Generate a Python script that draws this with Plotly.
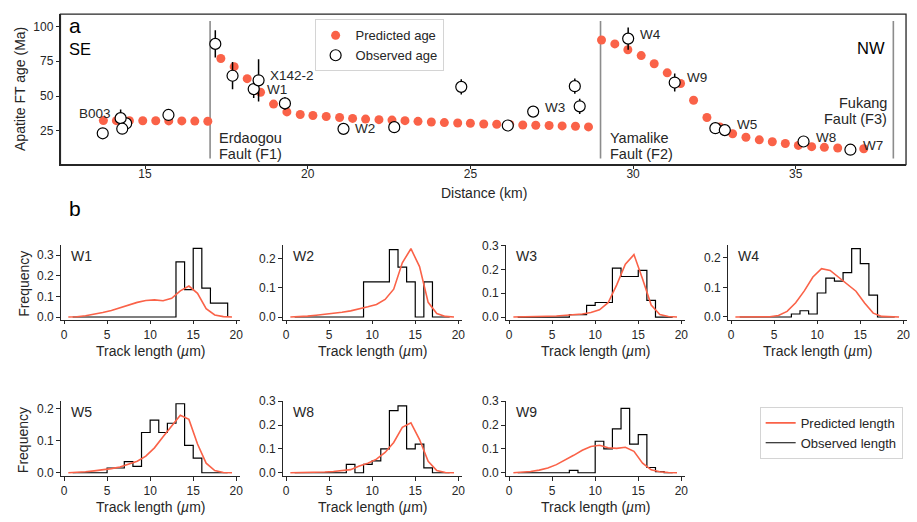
import plotly.graph_objects as go

# ---------------- data: apatite fission-track ages along the profile ----------------
PRED_DIST_KM = [
    13.72, 14.12, 14.52, 14.93, 15.33, 15.73, 16.13, 16.53, 16.93,
    17.33, 17.74, 18.14, 18.55, 18.95, 19.36, 19.77, 20.16, 20.57, 20.98,
    21.38, 21.78, 22.19, 22.59, 22.99, 23.39, 23.80, 24.20, 24.61, 25.00,
    25.41, 25.81, 26.21, 26.61, 27.01, 27.42, 27.82, 28.23, 28.63,
    29.03, 29.44, 29.84, 30.25, 30.65, 31.05, 31.46, 31.86, 32.27, 32.67,
    33.06, 33.47, 33.88, 34.28, 34.68, 35.08, 35.49, 35.88, 36.29, 36.69, 37.09,
]
PRED_AGE_MA = [
    32.4, 32.3, 32.3, 32.2, 32.2, 32.1, 32.1, 32.0, 31.9,
    77.0, 71.1, 62.5, 52.7, 44.2, 38.6, 36.7, 36.0, 35.3, 34.6,
    33.9, 33.4, 33.0, 32.7, 32.3, 31.8, 31.3, 30.9, 30.6, 30.4,
    29.9, 29.7, 29.5, 29.2, 29.0, 28.8, 28.5, 28.3, 27.8,
    90.3, 87.5, 83.3, 79.1, 73.2, 66.7, 59.0, 47.0, 34.6, 27.8,
    22.9, 20.4, 18.5, 17.1, 15.9, 14.5, 13.6, 13.1, 12.6, 12.3, 12.1,
]

OBS_DIST_KM = [14.42, 13.70, 14.25, 14.30, 15.72, 17.16, 17.69, 18.34, 18.49, 19.30,
               21.10, 22.66, 24.72, 26.15, 26.93, 28.21, 28.36, 29.85, 31.28,
               32.53, 32.82, 35.24, 36.68]
OBS_AGE_MA = [30.3, 23.2, 34.1, 26.5, 36.4, 87.5, 64.6, 55.0, 61.3, 44.7,
              26.4, 27.6, 56.6, 28.8, 38.8, 57.1, 42.6, 91.3, 59.7,
              26.9, 25.5, 17.3, 11.4]
OBS_ERR_MA = [3.0, 3.0, 6.3, 3.0, 3.0, 9.8, 9.8, 6.5, 15.2, 4.5,
              2.5, 2.5, 5.5, 2.5, 3.0, 5.5, 5.5, 8.0, 6.5,
              2.5, 2.5, 2.5, 2.5]

# sample labels: (name, index into the observed arrays)
SAMPLE_LABELS = [("B003", 2), ("X142-2", 8), ("W1", 7), ("W2", 10), ("W3", 14),
                 ("W4", 17), ("W9", 18), ("W5", 20), ("W8", 21), ("W7", 22)]

FAULT_KM = [17.0, 29.0, 38.0]
FAULT_NAMES = [("Erdaogou", "Fault (F1)"), ("Yamalike", "Fault (F2)"), ("Fukang", "Fault (F3)")]

# ---------------- data: track-length distributions ----------------
LENGTH_MID_UM = [0.5, 1.5, 2.5, 3.5, 4.5, 5.5, 6.5, 7.5, 8.5, 9.5,
                 10.5, 11.5, 12.5, 13.5, 14.5, 15.5, 16.5, 17.5, 18.5, 19.5]
LENGTH_BIN_EDGES_UM = [1, 2, 3, 4, 5, 6, 7, 8, 9, 10, 11, 12, 13, 14, 15, 16, 17, 18, 19]

LENGTH_SAMPLES = ["W1", "W2", "W3", "W4", "W5", "W8", "W9"]

PRED_LENGTH = {
    "W1": [0.000, 0.001, 0.006, 0.013, 0.022, 0.032, 0.045, 0.058, 0.071, 0.080,
           0.083, 0.079, 0.091, 0.127, 0.150, 0.115, 0.040, 0.010, 0.002, 0.000],
    "W2": [0.000, 0.001, 0.003, 0.006, 0.009, 0.012, 0.016, 0.021, 0.027, 0.035,
           0.043, 0.060, 0.095, 0.185, 0.233, 0.172, 0.050, 0.012, 0.002, 0.000],
    "W3": [0.000, 0.000, 0.001, 0.002, 0.003, 0.004, 0.006, 0.009, 0.013, 0.019,
           0.030, 0.060, 0.135, 0.222, 0.262, 0.160, 0.050, 0.010, 0.002, 0.000],
    "W4": [0.000, 0.000, 0.000, 0.000, 0.001, 0.005, 0.019, 0.048, 0.088, 0.135,
           0.163, 0.157, 0.133, 0.110, 0.087, 0.047, 0.013, 0.002, 0.000, 0.000],
    "W5": [0.000, 0.001, 0.003, 0.006, 0.009, 0.013, 0.018, 0.026, 0.036, 0.052,
           0.078, 0.113, 0.148, 0.180, 0.167, 0.090, 0.030, 0.007, 0.001, 0.000],
    "W8": [0.000, 0.000, 0.001, 0.002, 0.003, 0.005, 0.008, 0.013, 0.028, 0.040,
           0.057, 0.085, 0.127, 0.190, 0.209, 0.139, 0.048, 0.009, 0.001, 0.000],
    "W9": [0.000, 0.001, 0.005, 0.011, 0.020, 0.034, 0.052, 0.073, 0.094, 0.110,
           0.115, 0.105, 0.102, 0.107, 0.090, 0.040, 0.012, 0.004, 0.001, 0.000],
}

OBS_LENGTH = {
    "W1": [0, 0, 0, 0, 0, 0, 0, 0, 0, 0, 0, 0, 0.267, 0.133, 0.333, 0.140, 0.067, 0.067],
    "W2": [0, 0, 0, 0, 0, 0, 0, 0, 0.12, 0.12, 0.12, 0.23, 0.17, 0.12, 0, 0.12, 0, 0],
    "W3": [0, 0, 0, 0, 0, 0, 0.01, 0.01, 0.049, 0.061, 0.061, 0.205, 0.17, 0.17, 0.196, 0.07, 0, 0],
    "W4": [0, 0, 0, 0, 0, 0, 0.01, 0.021, 0.01, 0.081, 0.131, 0.121, 0.15, 0.231, 0.18, 0.074, 0, 0],
    "W5": [0, 0, 0, 0, 0.015, 0.015, 0.035, 0.02, 0.126, 0.165, 0.126, 0.155, 0.216, 0.086, 0.046, 0, 0, 0],
    "W8": [0, 0, 0, 0, 0, 0, 0.035, 0, 0.035, 0.05, 0.10, 0.26, 0.28, 0.10, 0.12, 0.02, 0, 0],
    "W9": [0, 0, 0, 0, 0, 0, 0.01, 0, 0, 0.132, 0.10, 0.184, 0.27, 0.12, 0.16, 0.022, 0.005, 0],
}

# ---------------- styling / layout helpers ----------------
W, H = 917, 522
FONT = "Liberation Sans, Arial, sans-serif"
INK = "#262626"
RED = "#fa6248"
GREY = "#8c8c8c"


def px(x):
    return x / W


def py(y):
    return 1 - y / H


fig = go.Figure()

# ---------------- panel a ----------------
fx, fy = [], []
for f in FAULT_KM:
    fx += [f, f, None]
    fy += [5, 104, None]
fig.add_trace(go.Scatter(x=fx, y=fy, mode="lines", line=dict(color=GREY, width=1.6),
                         showlegend=False, hoverinfo="skip", xaxis="x", yaxis="y"))

fig.add_trace(go.Scatter(x=PRED_DIST_KM, y=PRED_AGE_MA, mode="markers", name="Predicted age",
                         marker=dict(color=RED, size=9, line=dict(width=0)),
                         legend="legend", xaxis="x", yaxis="y"))

fig.add_trace(go.Scatter(x=OBS_DIST_KM, y=OBS_AGE_MA, mode="markers", name="Observed age",
                         marker=dict(color="white", size=11, line=dict(color="black", width=1.2)),
                         error_y=dict(type="data", array=OBS_ERR_MA, visible=True,
                                      thickness=1.5, width=0, color="black"),
                         legend="legend", xaxis="x", yaxis="y"))

# ---------------- panel b: track-length distributions ----------------
COL_X0 = [61.0, 284.0, 508.0, 731.0]
COL_W = 179.6
ROW_TOP = [243.3, 403.3]
ROW_BOT = [320.0, 480.0]
Y_RANGES = {
    "W1": [-0.0128, 0.3507], "W2": [-0.009, 0.2467], "W3": [-0.011, 0.3035],
    "W4": [-0.009, 0.244], "W5": [-0.010, 0.2245], "W8": [-0.0135, 0.3005],
    "W9": [-0.0135, 0.3005],
}
POSITIONS = [(0, 0), (0, 1), (0, 2), (0, 3), (1, 0), (1, 1), (1, 2)]

axis_common = dict(showgrid=False, zeroline=False, showline=True, linecolor=INK,
                   linewidth=1.2, ticks="outside", ticklen=3.5, tickwidth=1.1,
                   tickcolor=INK, tickfont=dict(family=FONT, size=12, color=INK))

layout_axes = {}
annotations = []

for i, name in enumerate(LENGTH_SAMPLES):
    n = i + 2
    xa, ya = f"x{n}", f"y{n}"
    row, col = POSITIONS[i]
    edges = LENGTH_BIN_EDGES_UM
    freq = OBS_LENGTH[name]
    step_x = [edges[0]] + edges[:-1] + [edges[-1]]
    step_y = [0] + freq + [0]
    first = i == 0
    fig.add_trace(go.Scatter(x=step_x, y=step_y, mode="lines", line_shape="hv",
                             line=dict(color="black", width=1.2), name="Observed length",
                             legend="legend2", legendrank=2, showlegend=first,
                             xaxis=xa, yaxis=ya))
    fig.add_trace(go.Scatter(x=LENGTH_MID_UM, y=PRED_LENGTH[name], mode="lines",
                             line=dict(color=RED, width=1.6), name="Predicted length",
                             legend="legend2", legendrank=1, showlegend=first,
                             xaxis=xa, yaxis=ya))

    x0 = COL_X0[col]
    layout_axes[f"xaxis{n}"] = dict(axis_common, domain=[px(x0), px(x0 + COL_W)], anchor=ya,
                                    range=[-0.38, 20.38], tickvals=[0, 5, 10, 15, 20])
    layout_axes[f"yaxis{n}"] = dict(axis_common, domain=[py(ROW_BOT[row]), py(ROW_TOP[row])],
                                    anchor=xa, range=Y_RANGES[name], tick0=0, dtick=0.1,
                                    tickformat=".1f")
    annotations.append(dict(text=name, xref="paper", yref="paper", x=px(x0 + 8),
                            y=py(ROW_TOP[row] + 11.7), xanchor="left", yanchor="middle",
                            showarrow=False, font=dict(family=FONT, size=14, color=INK)))
    annotations.append(dict(text="Track length (<i>µ</i>m)", xref="paper", yref="paper",
                            x=px(x0 + COL_W / 2), y=py(ROW_BOT[row] + 31.7),
                            xanchor="center", yanchor="middle", showarrow=False,
                            font=dict(family=FONT, size=14, color=INK)))

for row in range(2):
    annotations.append(dict(text="Frequency", xref="paper", yref="paper", x=px(23.3),
                            y=py((ROW_TOP[row] + ROW_BOT[row]) / 2 + 1.5), textangle=-90,
                            xanchor="center", yanchor="middle", showarrow=False,
                            font=dict(family=FONT, size=14, color=INK)))

# ---------------- panel a annotations ----------------
label_shift = {"B003": (-8, 4.4, "right"), "X142-2": (9.6, 5, "left"), "W1": (11.7, 0, "left"),
               "W2": (10, 0, "left"), "W3": (10.3, 3.7, "left"), "W4": (10, 4.3, "left"),
               "W9": (10, 4.6, "left"), "W5": (10.3, 5.3, "left"), "W8": (10.7, 4.4, "left"),
               "W7": (10.3, 4, "left")}
for name, idx in SAMPLE_LABELS:
    dx, dy, anchor = label_shift[name]
    annotations.append(dict(text=name, xref="x", yref="y", x=OBS_DIST_KM[idx], y=OBS_AGE_MA[idx],
                            xshift=dx, yshift=dy, xanchor=anchor, yanchor="middle",
                            showarrow=False, font=dict(family=FONT, size=13.5, color=INK)))

fault_text = [(FAULT_KM[0], 7, "left", 19.7, 8.2), (FAULT_KM[1], 7, "left", 19.7, 8.2),
              (FAULT_KM[2], -4, "right", 44.7, 33.2)]
for (fkm, dx, anchor, y1, y2), (l1, l2) in zip(fault_text, FAULT_NAMES):
    for txt, yy in ((l1, y1), (l2, y2)):
        annotations.append(dict(text=txt, xref="x", yref="y", x=fkm, y=yy, xshift=dx,
                                xanchor=anchor, yanchor="middle", showarrow=False,
                                font=dict(family=FONT, size=14.5, color=INK)))

annotations += [
    dict(text="a", xref="paper", yref="paper", x=px(67), y=py(18.5), xanchor="left",
         yanchor="middle", showarrow=False, font=dict(family=FONT, size=21, color="black")),
    dict(text="SE", xref="paper", yref="paper", x=px(67), y=py(42.7), xanchor="left",
         yanchor="middle", showarrow=False, font=dict(family=FONT, size=16.5, color="black")),
    dict(text="NW", xref="paper", yref="paper", x=px(891), y=py(42.3), xanchor="right",
         yanchor="middle", showarrow=False, font=dict(family=FONT, size=16.5, color="black")),
    dict(text="b", xref="paper", yref="paper", x=px(67), y=py(206), xanchor="left",
         yanchor="middle", showarrow=False, font=dict(family=FONT, size=21, color="black")),
    dict(text="Apatite FT age (Ma)", xref="paper", yref="paper", x=px(20.7), y=py(84.3),
         textangle=-90, xanchor="center", yanchor="middle", showarrow=False,
         font=dict(family=FONT, size=14, color=INK)),
    dict(text="Distance (km)", xref="paper", yref="paper", x=px(486), y=py(190),
         xanchor="center", yanchor="middle", showarrow=False,
         font=dict(family=FONT, size=14, color=INK)),
]

top_axis = dict(axis_common, linewidth=1.3, linecolor=INK)

fig.update_layout(
    width=W, height=H, autosize=False,
    margin=dict(l=0, r=0, t=0, b=0),
    paper_bgcolor="white", plot_bgcolor="white",
    font=dict(family=FONT, size=12, color=INK),
    xaxis=dict(top_axis, domain=[px(60.7), px(910)], anchor="y", range=[12.40, 38.39],
               tickvals=[15, 20, 25, 30, 35], ticklabelstandoff=-6),
    yaxis=dict(top_axis, domain=[py(161.3), py(7.3)], anchor="x", range=[0.7, 108.9],
               tickvals=[25, 50, 75, 100]),
    legend=dict(x=px(316), y=py(12.7), xanchor="left", yanchor="top",
                bgcolor="white", bordercolor="#d4d4d4", borderwidth=1,
                font=dict(family=FONT, size=13, color=INK), tracegroupgap=0),
    legend2=dict(x=px(763), y=py(409.3), xanchor="left", yanchor="top",
                 bgcolor="white", bordercolor="#d4d4d4", borderwidth=1,
                 font=dict(family=FONT, size=13, color=INK), tracegroupgap=0),
    shapes=[dict(type="rect", xref="x domain", yref="y domain", x0=0, x1=1, y0=0, y1=1,
                 line=dict(color=INK, width=1.3), fillcolor="rgba(0,0,0,0)", layer="above")],
    annotations=annotations,
    showlegend=True,
    **layout_axes,
)

fig.write_html("out.html")
